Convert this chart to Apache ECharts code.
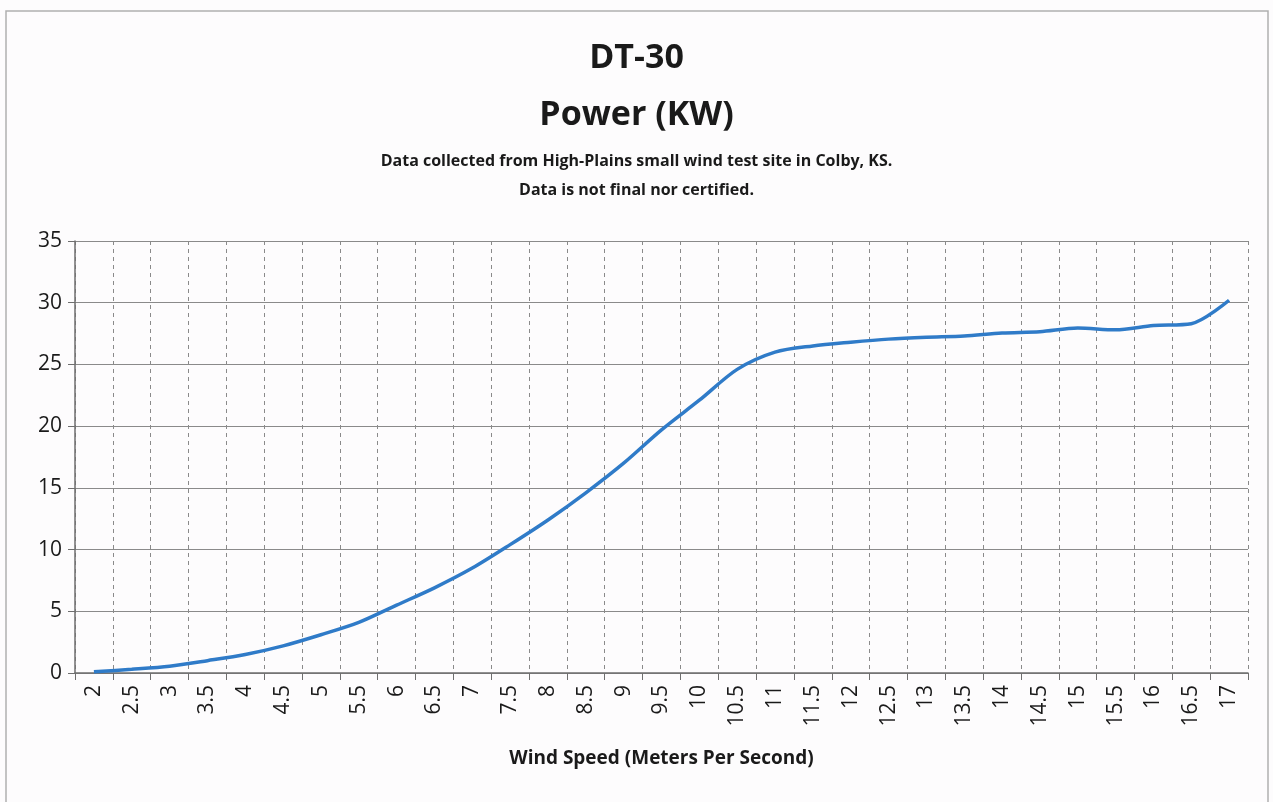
<!DOCTYPE html>
<html>
<head>
<meta charset="utf-8">
<script src="https://cdn.jsdelivr.net/npm/echarts@6/dist/echarts.min.js"></script>
<style>
html, body { margin: 0; padding: 0; background: #fdfcfd; }
#chart { width: 1273px; height: 802px; }
</style>
</head>
<body>
<div id="chart"></div>
<script>
// wind speed categories (m/s)
let speeds = ['2', '2.5', '3', '3.5', '4', '4.5', '5', '5.5', '6', '6.5', '7', '7.5', '8', '8.5', '9', '9.5',
    '10', '10.5', '11', '11.5', '12', '12.5', '13', '13.5', '14', '14.5', '15', '15.5', '16', '16.5', '17'];
// power in KW
let power = [0.1, 0.3, 0.55, 1.0, 1.5, 2.2, 3.1, 4.1, 5.5, 6.9, 8.5, 10.4, 12.4, 14.6, 17.0, 19.7,
    22.1, 24.6, 26.0, 26.5, 26.8, 27.05, 27.2, 27.3, 27.55, 27.65, 27.95, 27.8, 28.15, 28.3, 30.2];

let font = "'Open Sans', sans-serif";
let txt = '#1a1a1a';

let myc = echarts.init(document.getElementById('chart'));
let options = {
    backgroundColor: '#fdfcfd',
    animation: false,
    title: [
        { text: 'DT-30', left: 'center', top: 36, textStyle: { fontFamily: font, fontSize: 34, fontWeight: 'bold', color: txt } },
        { text: 'Power (KW)', left: 'center', top: 93, textStyle: { fontFamily: font, fontSize: 34, fontWeight: 'bold', color: txt } },
        { text: 'Data collected from High-Plains small wind test site in Colby, KS.', left: 'center', top: 148,
          textStyle: { fontFamily: font, fontSize: 16, fontWeight: 'bold', color: txt } },
        { text: 'Data is not final nor certified.', left: 'center', top: 177,
          textStyle: { fontFamily: font, fontSize: 16, fontWeight: 'bold', color: txt } }
    ],
    graphic: [
        { type: 'polyline', shape: { points: [[6, 802], [6, 11], [1268, 11], [1268, 802]] },
          style: { fill: null, stroke: '#b0b0b0', lineWidth: 1.5 } }
    ],
    grid: { left: 75, right: 25, top: 241, bottom: 129 },
    xAxis: {
        type: 'category',
        data: speeds,
        boundaryGap: true,
        name: 'Wind Speed (Meters Per Second)',
        nameLocation: 'middle',
        nameGap: 76,
        nameTextStyle: { fontFamily: font, fontSize: 19, fontWeight: 'bold', color: txt },
        axisLine: { lineStyle: { color: '#6e6e6e', width: 1.5 } },
        axisTick: { show: true, length: 7, lineStyle: { color: '#6e6e6e' } },
        axisLabel: { rotate: 90, interval: 0, margin: 12, fontFamily: font, fontSize: 21, color: txt },
        splitLine: { show: true, interval: 0, lineStyle: { color: '#8a8a8a', type: [4, 4], width: 1 } }
    },
    yAxis: {
        type: 'value',
        min: 0,
        max: 35,
        interval: 5,
        axisLine: { show: true, lineStyle: { color: '#6e6e6e', width: 1.5 } },
        axisTick: { show: true, length: 7, lineStyle: { color: '#6e6e6e' } },
        axisLabel: { margin: 13, fontFamily: font, fontSize: 21, color: txt },
        splitLine: { show: true, lineStyle: { color: '#8a8a8a', width: 1.2 } }
    },
    series: [
        {
            type: 'line',
            data: power,
            smooth: 0.3,
            symbol: 'none',
            lineStyle: { color: '#2f7bc8', width: 3.5 }
        }
    ]
};
myc.setOption(options);
</script>
</body>
</html>
